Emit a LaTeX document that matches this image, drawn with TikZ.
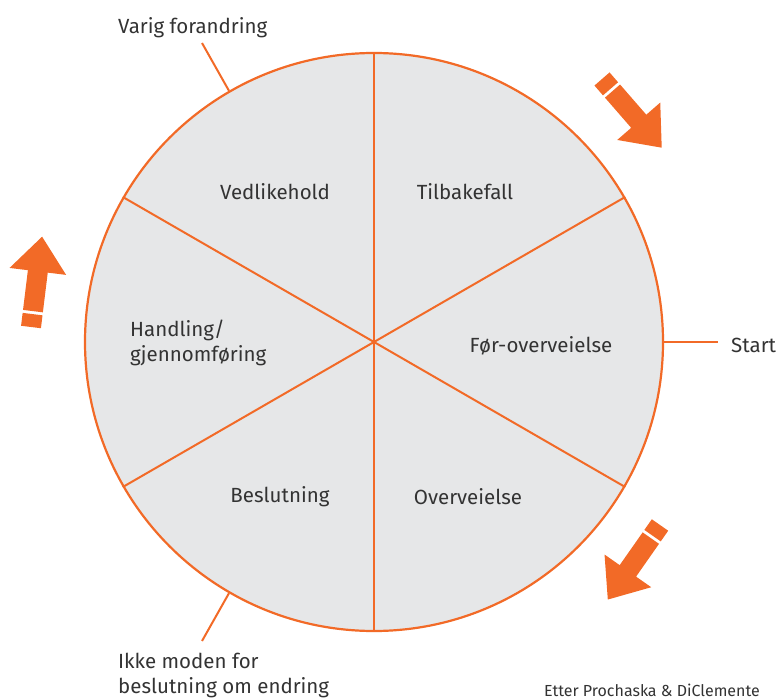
\documentclass[tikz,border=0pt]{standalone}
\usepackage{fontspec}
\setmainfont{Fira Sans}
\begin{document}
\definecolor{wheelorange}{HTML}{F26A27}
\definecolor{wheelgrey}{HTML}{E6E7E8}
\definecolor{txt}{HTML}{333333}
\begin{tikzpicture}[x=1pt,y=-1pt,
  label text/.style={text=txt,font=\fontsize{20.5}{25.5}\selectfont,inner sep=0pt},
  leader/.style={draw=wheelorange,line width=2pt},
  spoke/.style={draw=wheelorange,line width=2pt},
  pics/blockarrow/.style={code={
    % tail block, small gap, shaft and head, pointing along +x
    \fill[wheelorange] (0,-10) rectangle (13,10);
    \fill[wheelorange] (16,-10) -- (56,-10) -- (56,-28.5) -- (91,0)
      -- (56,28.5) -- (56,10) -- (16,10) -- cycle;
  }}]
\useasboundingbox (0,0) rectangle (781,700);
\coordinate (c) at (374,342);
% the wheel
\node[circle,draw=wheelorange,fill=wheelgrey,line width=2.2pt,inner sep=0pt,
      minimum size=578pt] (wheel) at (c) {};
\foreach \a in {30,90,150,210,270,330}
  \draw[spoke] (c) -- (wheel.\a);
% stage names
\node[label text] (vedl) at (275,192) {Vedlikehold};
\node[label text] (tilb) at (465,192) {Tilbakefall};
\node[label text] (forov) at (541,346) {Før-overveielse};
\node[label text] (overv) at (468,497) {Overveielse};
\node[label text] (besl) at (280,497) {Beslutning};
\node[label text,anchor=west,align=left] (handl) at (130,343) {Handling/\\gjennomføring};
% outer labels with leader lines
\coordinate (varigend) at (202,43);
\coordinate (startend) at (718,342);
\coordinate (ikkeend) at (202,641);
\draw[leader] (wheel.120) -- (varigend);
\draw[leader] (wheel.0) -- (startend);
\draw[leader] (wheel.240) -- (ikkeend);
\node[label text,anchor=west] (varig) at (118,28) {Varig forandring};
\node[label text,anchor=west] (start) at (731,345) {Start};
\node[label text,anchor=west,align=left] (ikke) at (118,675.5) {Ikke moden for\\beslutning om endring};
\node[text=txt,font=\fontsize{16}{18}\selectfont,inner sep=0pt,anchor=east] (credit) at (760,690) {Etter Prochaska \& DiClemente};
% direction arrows
\pic[rotate=-49] at (602,79) {blockarrow};
\pic[rotate=83] at (31,327) {blockarrow};
\pic[rotate=-125] at (660,525) {blockarrow};
\end{tikzpicture}
\end{document}
